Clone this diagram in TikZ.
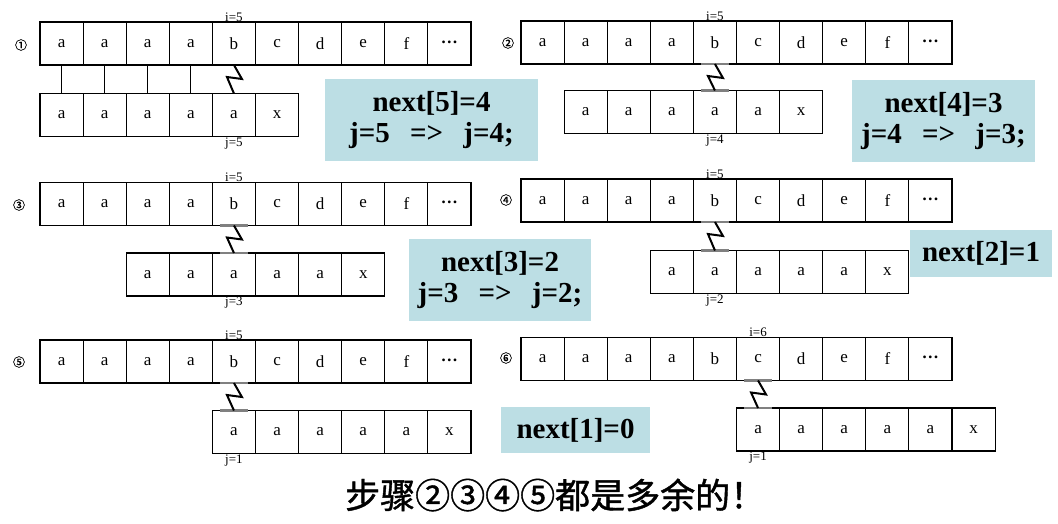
\documentclass[tikz,border=0pt]{standalone}
\usepackage{fontspec}
\setmainfont{Liberation Serif}
\newfontfamily\cjk{Noto Sans CJK SC}
\newfontfamily\cjkbold[FakeBold=1.2]{Noto Sans CJK SC}
\usetikzlibrary{positioning}
\definecolor{notebg}{RGB}{188,222,228}

\begin{document}
\begin{tikzpicture}[x=1pt, y=-1pt]

	\tikzstyle{cell}=[draw, line width=1.1pt, minimum width=43.1pt, minimum height=43pt, inner sep=0, outer sep=0, font=\fontsize{17}{17}\selectfont];
	\tikzstyle{lbl}=[inner sep=0.5pt, font=\fontsize{13}{13}\selectfont];
	\tikzstyle{num}=[inner sep=0, font=\cjkbold\fontsize{12}{12}\selectfont];
	\tikzstyle{note}=[fill=notebg, align=center, inner sep=0, font=\bfseries\fontsize{29}{31}\selectfont];
	\tikzstyle{bolt}=[line width=2pt, line join=miter];
	\tikzstyle{bar}=[line width=2.8pt, black!50];

	\useasboundingbox (0,0) rectangle (1058,524);

	% step 1
	\node (one num) [num] at (21,45) {①};
	\foreach \ch [count=\k] in {a,a,a,a,b,c,d,e,f,\raisebox{0.35ex}{\textbf{…}}}
		\node (one str \k) [cell] at ({61.55+43.1*(\k-1)},43.5) {\ch};
	\foreach \ch [count=\k] in {a,a,a,a,a,x}
		\node (one pat \k) [cell] at ({61.55+43.1*(\k-1)},115) {\ch};
	\node (one i) [lbl, above=0pt of one str 5] {i=5};
	\node (one j) [lbl, below=0.5pt of one pat 5] {j=5};
	\foreach \k in {1,...,4}
		\draw [line width=1pt] (one str \k) -- (one pat \k);
	\draw [bolt] (one str 5.south) -- ++(8,14) -- ++(-15,-2) -- (one pat 5.north);
	\node (one note) [note, minimum width=213pt, minimum height=82pt] at (431.5,120) {next[5]=4\\j=5\hspace{0.7em}=>\hspace{0.7em}j=4;};

	% step 2
	\node (two num) [num] at (508,43) {②};
	\foreach \ch [count=\k] in {a,a,a,a,b,c,d,e,f,\raisebox{0.35ex}{\textbf{…}}}
		\node (two str \k) [cell] at ({542.55+43.1*(\k-1)},42.5) {\ch};
	\foreach \ch [count=\k] in {a,a,a,a,a,x}
		\node (two pat \k) [cell] at ({585.65+43.1*(\k-1)},112) {\ch};
	\node (two i) [lbl, above=0pt of two str 5] {i=5};
	\node (two j) [lbl, below=0.5pt of two pat 4] {j=4};
	\draw [bar] ([xshift=-14pt]two str 5.south) -- ([xshift=14pt]two str 5.south);
	\draw [bar] ([xshift=-14pt]two pat 4.north) -- ([xshift=14pt]two pat 4.north);
	\draw [bolt] (two str 5.south) -- ++(8,14) -- ++(-15,-2) -- (two pat 4.north);
	\node (two note) [note, minimum width=183pt, minimum height=82pt] at (943.5,121) {next[4]=3\\j=4\hspace{0.7em}=>\hspace{0.7em}j=3;};

	% step 3
	\node (three num) [num] at (19,205) {③};
	\foreach \ch [count=\k] in {a,a,a,a,b,c,d,e,f,\raisebox{0.35ex}{\textbf{…}}}
		\node (three str \k) [cell] at ({61.55+43.1*(\k-1)},204) {\ch};
	\foreach \ch [count=\k] in {a,a,a,a,a,x}
		\node (three pat \k) [cell] at ({147.75+43.1*(\k-1)},274.5) {\ch};
	\node (three i) [lbl, above=0pt of three str 5] {i=5};
	\node (three j) [lbl, below=0.5pt of three pat 3] {j=3};
	\draw [bar] ([xshift=-14pt]three str 5.south) -- ([xshift=14pt]three str 5.south);
	\draw [bar] ([xshift=-14pt]three pat 3.north) -- ([xshift=14pt]three pat 3.north);
	\draw [bolt] (three str 5.south) -- ++(8,14) -- ++(-15,-2) -- (three pat 3.north);
	\node (three note) [note, minimum width=182pt, minimum height=82pt] at (500,280) {next[3]=2\\j=3\hspace{0.7em}=>\hspace{0.7em}j=2;};

	% step 4
	\node (four num) [num] at (506,200) {④};
	\foreach \ch [count=\k] in {a,a,a,a,b,c,d,e,f,\raisebox{0.35ex}{\textbf{…}}}
		\node (four str \k) [cell] at ({542.55+43.1*(\k-1)},200.5) {\ch};
	\foreach \ch [count=\k] in {a,a,a,a,a,x}
		\node (four pat \k) [cell] at ({671.85+43.1*(\k-1)},272) {\ch};
	\node (four i) [lbl, above=0pt of four str 5] {i=5};
	\node (four j) [lbl, below=0.5pt of four pat 2] {j=2};
	\draw [bar] ([xshift=-14pt]four str 5.south) -- ([xshift=14pt]four str 5.south);
	\draw [bar] ([xshift=-14pt]four pat 2.north) -- ([xshift=14pt]four pat 2.north);
	\draw [bolt] (four str 5.south) -- ++(8,14) -- ++(-15,-2) -- (four pat 2.north);
	\node (four note) [note, minimum width=142pt, minimum height=47pt] at (981,253.5) {next[2]=1};

	% step 5
	\node (five num) [num] at (19,362) {⑤};
	\foreach \ch [count=\k] in {a,a,a,a,b,c,d,e,f,\raisebox{0.35ex}{\textbf{…}}}
		\node (five str \k) [cell] at ({61.55+43.1*(\k-1)},361.5) {\ch};
	\foreach \ch [count=\k] in {a,a,a,a,a,x}
		\node (five pat \k) [cell] at ({233.95+43.1*(\k-1)},432) {\ch};
	\node (five i) [lbl, above=0pt of five str 5] {i=5};
	\node (five j) [lbl, below=0.5pt of five pat 1] {j=1};
	\draw [bar] ([xshift=-14pt]five str 5.south) -- ([xshift=14pt]five str 5.south);
	\draw [bar] ([xshift=-14pt]five pat 1.north) -- ([xshift=14pt]five pat 1.north);
	\draw [bolt] (five str 5.south) -- ++(8,14) -- ++(-15,-2) -- (five pat 1.north);
	\node (five note) [note, minimum width=149pt, minimum height=46pt] at (575.5,430) {next[1]=0};

	% step 6
	\node (six num) [num] at (506,358) {⑥};
	\foreach \ch [count=\k] in {a,a,a,a,b,c,d,e,f,\raisebox{0.35ex}{\textbf{…}}}
		\node (six str \k) [cell] at ({542.55+43.1*(\k-1)},359) {\ch};
	\foreach \ch [count=\k] in {a,a,a,a,a,x}
		\node (six pat \k) [cell] at ({758.05+43.1*(\k-1)},429.5) {\ch};
	\node (six i) [lbl, above=0pt of six str 6] {i=6};
	\node (six j) [lbl, below=0.5pt of six pat 1] {j=1};
	\draw [bar] ([xshift=-14pt]six str 6.south) -- ([xshift=14pt]six str 6.south);
	\draw [bar] ([xshift=-14pt]six pat 1.north) -- ([xshift=14pt]six pat 1.north);
	\draw [bolt] (six str 6.south) -- ++(8,14) -- ++(-15,-2) -- (six pat 1.north);

	\node (sum) [anchor=west, inner sep=0, font=\cjkbold\fontsize{35}{35}\selectfont] at (345,495) {步骤②③④⑤都是多余的！};

\end{tikzpicture}
\end{document}
